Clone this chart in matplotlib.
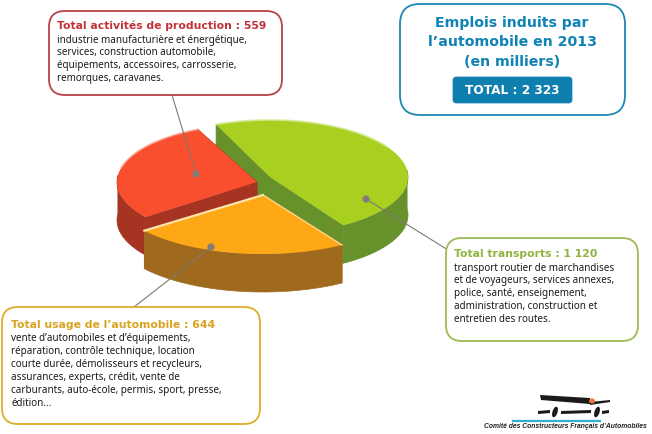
import numpy as np
import matplotlib
matplotlib.use('Agg')
import matplotlib.pyplot as plt
from matplotlib.patches import FancyBboxPatch, Polygon, Circle, Ellipse

plt.rcParams['font.family'] = ['Noto Sans', 'DejaVu Sans']
HEAD_FONT = 'DejaVu Sans'

# ---- data ----
categories = ['Total transports', "Total usage de l'automobile", 'Total activités de production']
values = [1120, 644, 559]
total_label = 'TOTAL : 2 323'
title_lines = ['Emplois induits par', 'l’automobile en 2013', '(en milliers)']

prod_lines = ['industrie manufacturière et énergétique,', 'services, construction automobile,',
              'équipements, accessoires, carrosserie,', 'remorques, caravanes.']
trans_lines = ['transport routier de marchandises', 'et de voyageurs, services annexes,',
               'police, santé, enseignement,', 'administration, construction et', 'entretien des routes.']
usage_lines = ['vente d’automobiles et d’équipements,', 'réparation, contrôle technique, location',
               'courte durée, démolisseurs et recycleurs,', 'assurances, experts, crédit, vente de',
               'carburants, auto-école, permis, sport, presse,', 'édition...']

# ---- style ----
# the drawn pie is not quite to scale, so each sweep gets a stretch
stretch = [0.985, 0.85, 1.18]
start_angle = 113
depth = 38
centers = [(270, 177), (263, 195), (257, 182)]
radii = [(138, 57), (149, 59), (140, 58)]
top_cols = ['#a9cf20', '#fea815', '#fa4f2e']
side_cols = ['#67922b', '#a06a1e', '#a63423']
rim_cols = ['#d6e88e', '#ffd58a', '#fb9d85']

fig = plt.figure(figsize=(6.52, 4.34), dpi=100)
ax = fig.add_axes([0, 0, 1, 1])
ax.set_xlim(0, 652)
ax.set_ylim(434, 0)
ax.axis('off')


def arc(c, r, a0, a1, n=80):
    t = np.radians(np.linspace(a0, a1, n))
    return np.column_stack([c[0] + r[0] * np.cos(t), c[1] - r[1] * np.sin(t)])


def draw_slice(c, r, a0, a1, top, side, z):
    pts = arc(c, r, a0, a1)
    down = np.array([0, depth])
    # cut walls
    for p in (pts[0], pts[-1]):
        q = np.array([p, c, np.array(c) + down, p + down])
        ax.add_patch(Polygon(q, fc=side, ec=side, lw=0.5, zorder=z))
    # outer wall, only the part facing us
    t = np.linspace(a0, a1, 200)
    front = t[np.sin(np.radians(t)) < 0.12]
    if len(front):
        w = arc(c, r, front[0], front[-1])
        ax.add_patch(Polygon(np.vstack([w, (w + down)[::-1]]), fc=side, ec=side, lw=0.5, zorder=z))
    ax.add_patch(Polygon(np.vstack([[c], pts]), fc=top, ec='none', zorder=z + 0.1))
    return pts


a = start_angle
sweeps = []
for v, s in zip(values, stretch):
    sweep = 360 * v / sum(values) * s
    sweeps.append((a, a - sweep))
    a -= sweep

# green first, then red, then orange in front
for i, z in zip([0, 2, 1], [2, 3, 4]):
    pts = draw_slice(centers[i], radii[i], sweeps[i][0], sweeps[i][1], top_cols[i], side_cols[i], z)
    if i == 0:
        ax.plot(pts[:38, 0], pts[:38, 1], color=rim_cols[i], lw=1.3, alpha=0.8, zorder=z + 0.2)
    if i == 2:
        ax.plot(pts[40:, 0], pts[40:, 1], color=rim_cols[i], lw=1.3, alpha=0.7, zorder=z + 0.2)
    if i == 1:
        ax.plot([centers[1][0], pts[0, 0]], [centers[1][1], pts[0, 1]], color=rim_cols[i], lw=1.0, zorder=z + 0.2)
        ax.plot([centers[1][0], pts[-1, 0]], [centers[1][1], pts[-1, 1]], color='#ffe2a8', lw=1.6, zorder=z + 0.2)

# leader lines
leaders = [((366, 199), (448, 250)), ((211, 247), (134, 307)), ((196, 174), (172, 95))]
for p, q in leaders:
    ax.plot([p[0], q[0]], [p[1], q[1]], color='#7d7873', lw=0.8, zorder=6)
    ax.add_patch(Circle(p, 3.6, fc='#857b76', ec='none', zorder=7))


def box(x0, y0, x1, y1, ec, rad=16, lw=1.3, fc='white'):
    ax.add_patch(FancyBboxPatch((x0 + rad, y0 + rad), x1 - x0 - 2 * rad, y1 - y0 - 2 * rad,
                                boxstyle=f'round,pad={rad},rounding_size={rad}',
                                fc=fc, ec=ec, lw=lw, zorder=8))


def block(x, y, head, col, lines, step=12.9):
    ax.text(x, y, head, color=col, fontsize=7.8, fontweight='bold', family=HEAD_FONT, va='center', zorder=9)
    for k, ln in enumerate(lines):
        ax.text(x, y + 14 + k * step, ln, color='#1a1a1a', fontsize=7.1, va='center', zorder=9)


box(49, 11, 282, 95, '#b5434a')
block(57, 26, 'Total activités de production : 559', '#c0323a', prod_lines)
box(446, 238, 638, 341, '#9dbb55')
block(454, 254, 'Total transports : 1 120', '#8fb33f', trans_lines)
box(2, 307, 260, 424, '#dfab2c')
block(11, 325, 'Total usage de l’automobile : 644', '#d9a31f', usage_lines)

# title box
box(400, 4, 625, 115, '#1f86b3', rad=20)
for k, ln in enumerate(title_lines):
    ax.text(512, 23 + k * 19.5, ln, color='#0f83b5', fontsize=10.2, fontweight='bold', family=HEAD_FONT,
            ha='center', va='center', zorder=9)
box(453, 77, 572, 103, '#0f7fb0', rad=3, lw=0.5, fc='#0f7fb0')
ax.text(512.5, 90, total_label, color='white', fontsize=8.7, fontweight='bold', family=HEAD_FONT,
        ha='center', va='center', zorder=9)

# logo
ax.add_patch(Polygon([(540, 395), (590, 398), (590, 404), (541, 400)], fc='#1a1a1a', ec='none'))
ax.add_patch(Polygon([(590, 402), (610, 400), (610, 402), (590, 405)], fc='#1a1a1a', ec='none'))
ax.add_patch(Ellipse((592, 401), 6, 5, fc='#e8743a', ec='none'))
for seg in [[(538, 411), (550, 410), (550, 413), (538, 414)], [(561, 411), (591, 410), (591, 413), (561, 414)],
            [(602, 411), (609, 410), (609, 413), (602, 414)]]:
    ax.add_patch(Polygon(seg, fc='#1a1a1a', ec='none'))
ax.add_patch(Ellipse((555, 412), 5, 11, angle=18, fc='#1a1a1a', ec='none'))
ax.add_patch(Ellipse((597, 412), 5, 11, angle=18, fc='#1a1a1a', ec='none'))
ax.plot([513, 600], [421, 421], color='#2fb0cf', lw=1.6)
ax.text(565, 427, 'Comité des Constructeurs Français d’Automobiles', color='#222222', fontsize=4.9,
        fontweight='bold', style='italic', family='Liberation Sans', ha='center', va='center')

fig.savefig('out.png', dpi=100)
